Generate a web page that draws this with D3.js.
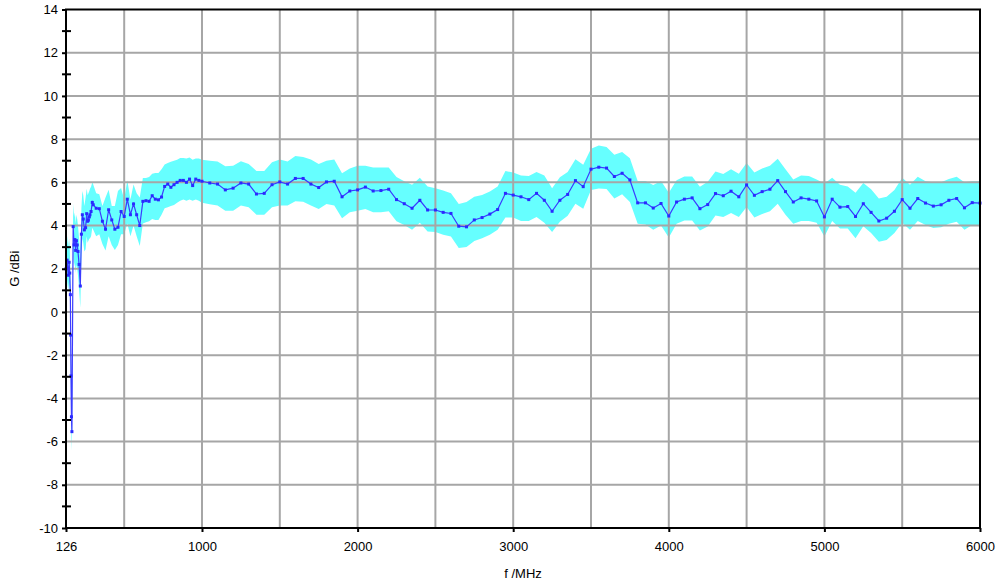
<!DOCTYPE html>
<html>
<head>
<meta charset="utf-8">
<script src="https://cdn.jsdelivr.net/npm/d3@7"></script>
<style>
  body { margin: 0; background: #fff; }
  svg { display: block; font-family: "Liberation Sans", Arial, sans-serif; }
</style>
</head>
<body>
<svg width="1002" height="584"></svg>
<script>
// low band, irregular steps (MHz)
const freqLow = [126, 133, 140, 146, 150, 154, 156, 158, 161, 164, 172, 178, 183, 188, 193, 198, 203, 210, 218,
  225, 231, 237, 244, 252, 259, 265, 270, 276, 280, 287, 295, 301, 320, 340, 360, 380, 400, 420, 440, 460,
  480, 500, 520, 540, 560, 580, 600, 620, 640, 660, 680, 700, 720, 740, 760, 780, 800, 820, 840, 860, 880,
  900, 920, 940, 960, 980];
const gainLow = [2.0, 2.4, 1.7, 2.3, 1.8, 0.8, -1.07, -2.96, -4.85, -5.54, 3.95, 3.1, 3.35, 2.85, 3.3, 3.1, 2.8, 2.2, 1.2,
  3.6, 4.5, 4.3, 3.8, 3.9, 4.55, 4.2, 4.25, 4.4, 4.5, 4.65, 5.07, 4.96, 4.8, 4.78, 4.2, 3.83, 4.73, 4.26, 3.83, 3.92,
  4.65, 4.42, 5.22, 4.5, 5.0, 4.5, 4.0, 5.12, 5.15, 5.12, 5.38, 5.22, 5.19, 5.32, 5.81, 5.92, 5.77, 5.89, 6.0, 6.09, 6.09,
  6.0, 6.15, 5.85, 6.15, 6.09];
const upperLow = [3.2, 3.5, 3.0, 3.4, 3.0, 1.9, 0.0, -1.9, -4.0, -4.7, 5.0, 4.4, 4.6, 4.1, 4.5, 4.3, 4.0, 3.4, 2.3,
  4.8, 5.6, 5.4, 4.9, 5.3, 5.7, 5.4, 5.5, 5.6, 5.7, 5.8, 6.0, 5.9, 5.5, 5.45, 4.9, 5.3, 5.66, 4.9, 4.9, 5.6,
  5.74, 5.2, 6.1, 5.2, 5.9, 5.5, 5.3, 6.2, 6.2, 6.25, 6.4, 6.43, 6.43, 6.6, 6.82, 6.9, 6.95, 7.0, 7.05, 7.13, 7.13,
  7.1, 7.15, 7.05, 7.1, 7.1];
const lowerLow = [1.3, 1.5, 1.0, 1.4, 1.0, -0.2, -2.0, -3.9, -5.8, -6.4, 2.9, 2.1, 2.3, 1.8, 2.2, 2.0, 1.7, 1.1, 0.2,
  2.6, 3.4, 3.2, 2.8, 2.9, 3.5, 3.2, 3.3, 3.4, 3.4, 3.5, 3.9, 3.8, 3.5, 3.6, 3.15, 2.85, 3.5, 3.1, 2.87, 3.1,
  3.6, 3.6, 4.1, 3.5, 4.0, 3.5, 3.05, 4.1, 4.15, 4.2, 4.3, 4.26, 4.26, 4.5, 4.8, 4.85, 4.9, 4.95, 5.05, 5.15, 5.2,
  5.15, 5.2, 5.15, 5.2, 5.15];

// 1000 - 6000 MHz, 50 MHz steps
const freqHigh = [1000, 1050, 1100, 1150, 1200, 1250, 1300, 1350, 1400, 1450, 1500, 1550, 1600, 1650, 1700, 1750,
  1800, 1850, 1900, 1950, 2000, 2050, 2100, 2150, 2200, 2250, 2300, 2350, 2400, 2450, 2500, 2550, 2600, 2650,
  2700, 2750, 2800, 2850, 2900, 2950, 3000, 3050, 3100, 3150, 3200, 3250, 3300, 3350, 3400, 3450, 3500, 3550,
  3600, 3650, 3700, 3750, 3800, 3850, 3900, 3950, 4000, 4050, 4100, 4150, 4200, 4250, 4300, 4350, 4400, 4450,
  4500, 4550, 4600, 4650, 4700, 4750, 4800, 4850, 4900, 4950, 5000, 5050, 5100, 5150, 5200, 5250, 5300, 5350,
  5400, 5450, 5500, 5550, 5600, 5650, 5700, 5750, 5800, 5850, 5900, 5950, 6000];
const gainHigh = [6.05, 5.97, 5.92, 5.65, 5.73, 5.97, 5.92, 5.46, 5.49, 5.89, 6.02, 5.92, 6.18, 6.18, 5.92, 5.76,
  6.02, 6.05, 5.33, 5.6, 5.65, 5.78, 5.6, 5.62, 5.68, 5.2, 5.01, 4.8, 5.17, 4.72, 4.72, 4.61, 4.56, 3.97,
  3.94, 4.26, 4.37, 4.53, 4.74, 5.49, 5.41, 5.33, 5.2, 5.49, 5.17, 4.66, 5.17, 5.44, 6.08, 5.8, 6.61, 6.7,
  6.66, 6.27, 6.42, 6.11, 5.05, 5.05, 4.81, 5.02, 4.44, 5.09, 5.22, 5.28, 4.78, 4.97, 5.48, 5.38, 5.59, 5.33,
  5.88, 5.4, 5.57, 5.68, 6.08, 5.57, 5.09, 5.28, 5.22, 5.14, 4.4, 5.22, 4.85, 4.88, 4.42, 5.01, 4.61, 4.21,
  4.34, 4.66, 5.2, 4.8, 5.25, 5.04, 4.9, 4.96, 5.17, 5.25, 4.82, 5.06, 5.04];
const upperHigh = [7.05, 7.0, 6.96, 6.74, 6.77, 6.98, 6.85, 6.53, 6.53, 6.93, 7.06, 6.96, 7.22, 7.17, 7.06, 6.85,
  7.0, 7.06, 6.42, 6.64, 6.77, 6.77, 6.69, 6.69, 6.69, 6.25, 6.05, 5.89, 6.21, 5.81, 5.73, 5.62, 5.49, 5.0,
  5.09, 5.33, 5.41, 5.57, 5.81, 6.53, 6.45, 6.32, 6.29, 6.48, 6.32, 5.73, 6.24, 6.48, 7.07, 6.81, 7.55, 7.7,
  7.64, 7.28, 7.4, 7.12, 6.06, 6.06, 5.88, 6.06, 5.52, 6.1, 6.27, 6.27, 5.8, 6.03, 6.5, 6.39, 6.61, 6.4,
  6.9, 6.45, 6.64, 6.77, 7.09, 6.61, 6.13, 6.32, 6.29, 6.13, 5.95, 6.21, 5.89, 5.81, 5.52, 5.97, 5.68, 5.25,
  5.33, 5.65, 6.21, 5.89, 6.26, 6.05, 6.0, 6.0, 6.16, 6.26, 6.0, 6.05, 6.05];
const lowerHigh = [5.05, 4.98, 4.93, 4.69, 4.69, 4.93, 4.85, 4.5, 4.5, 4.85, 4.93, 4.93, 5.12, 5.1, 4.93, 4.77,
  5.0, 4.93, 4.34, 4.61, 4.69, 4.77, 4.61, 4.61, 4.66, 4.2, 4.02, 3.81, 4.13, 3.73, 3.7, 3.57, 3.49, 2.96,
  3.01, 3.28, 3.41, 3.57, 3.81, 4.37, 4.37, 4.21, 4.21, 4.4, 4.13, 3.7, 4.18, 4.45, 5.01, 4.78, 5.64, 5.72,
  5.69, 5.25, 5.45, 5.09, 4.08, 4.05, 3.81, 4.0, 3.45, 4.08, 4.23, 4.23, 3.77, 3.95, 4.47, 4.39, 4.58, 4.4,
  4.86, 4.37, 4.53, 4.66, 5.01, 4.5, 4.08, 4.21, 4.21, 4.13, 3.49, 4.21, 3.86, 3.86, 3.41, 3.97, 3.65, 3.25,
  3.33, 3.65, 4.13, 3.81, 4.21, 4.02, 3.89, 3.92, 4.08, 4.18, 3.81, 4.02, 4.02];

const xTicks = [126, 1000, 2000, 3000, 4000, 5000, 6000];
const xGrid = [500, 1000, 1500, 2000, 2500, 3000, 3500, 4000, 4500, 5000, 5500];
const yTicks = [-10, -8, -6, -4, -2, 0, 2, 4, 6, 8, 10, 12, 14];
const yMinor = [-9, -7, -5, -3, -1, 1, 3, 5, 7, 9, 11, 13];

const freq = freqLow.concat(freqHigh);
const gain = gainLow.concat(gainHigh);
const upper = upperLow.concat(upperHigh);
const lower = lowerLow.concat(lowerHigh);
const data = freq.map((f, i) => ({ f: f, g: gain[i], hi: upper[i], lo: lower[i] }));

const svg = d3.select("svg");
const plotL = 66, plotR = 980, plotT = 9.5, plotB = 528;

const x = d3.scaleLinear().domain([126, 6000]).range([plotL, plotR]);
const y = d3.scaleLinear().domain([-10, 14]).range([plotB, plotT]);

svg.append("defs").append("clipPath").attr("id", "plot")
  .append("rect").attr("x", plotL).attr("y", plotT).attr("width", plotR - plotL).attr("height", plotB - plotT);

// uncertainty band
svg.append("path")
  .datum(data)
  .attr("clip-path", "url(#plot)")
  .attr("fill", "#66ffff")
  .attr("d", d3.area().x(d => x(d.f)).y0(d => y(d.lo)).y1(d => y(d.hi)));

// grid
const grid = svg.append("g").attr("stroke", "#a6a6a6").attr("stroke-width", 2);
grid.selectAll("line.v").data(xGrid).join("line").attr("class", "v")
  .attr("x1", d => x(d)).attr("x2", d => x(d)).attr("y1", plotT).attr("y2", plotB);
grid.selectAll("line.h").data(yTicks.filter(v => v > -10 && v < 14)).join("line").attr("class", "h")
  .attr("y1", d => y(d)).attr("y2", d => y(d)).attr("x1", plotL).attr("x2", plotR);

// gain line
svg.append("path")
  .datum(data)
  .attr("clip-path", "url(#plot)")
  .attr("fill", "none")
  .attr("stroke", "#3b3bff")
  .attr("stroke-width", 1.2)
  .attr("d", d3.line().x(d => x(d.f)).y(d => y(d.g)));

svg.append("g")
  .attr("fill", "#2a2aff")
  .selectAll("rect")
  .data(data)
  .join("rect")
  .attr("x", d => x(d.f) - 1.5)
  .attr("y", d => y(d.g) - 1.5)
  .attr("width", 3)
  .attr("height", 3);

// frame
svg.append("rect")
  .attr("x", plotL).attr("y", plotT)
  .attr("width", plotR - plotL).attr("height", plotB - plotT)
  .attr("fill", "none").attr("stroke", "#000").attr("stroke-width", 2);

// y axis
const yAxis = svg.append("g").attr("transform", `translate(${plotL},0)`)
  .call(d3.axisLeft(y).tickValues(yTicks).tickSize(4).tickPadding(4).tickFormat(d => String(d)));
yAxis.select(".domain").remove();
yAxis.selectAll(".tick line").attr("stroke", "#000").attr("stroke-width", 2);
yAxis.selectAll(".tick text").attr("font-size", 13).attr("fill", "#000")
  .attr("font-family", "Liberation Sans, Arial, sans-serif");

svg.append("g").attr("stroke", "#000").attr("stroke-width", 2)
  .selectAll("line").data(yMinor).join("line")
  .attr("x1", plotL - 4).attr("x2", plotL + 5)
  .attr("y1", d => y(d)).attr("y2", d => y(d));

// x axis
const xAxis = svg.append("g").attr("transform", `translate(0,${plotB})`)
  .call(d3.axisBottom(x).tickValues(xTicks).tickSize(4).tickPadding(10).tickFormat(d => String(d)));
xAxis.select(".domain").remove();
xAxis.selectAll(".tick line").attr("stroke", "#000").attr("stroke-width", 2);
xAxis.selectAll(".tick text").attr("font-size", 13).attr("fill", "#000")
  .attr("font-family", "Liberation Sans, Arial, sans-serif");

// axis titles
svg.append("text")
  .attr("x", (plotL + plotR) / 2).attr("y", 578)
  .attr("text-anchor", "middle").attr("font-size", 13)
  .text("f /MHz");

svg.append("text")
  .attr("transform", `translate(19,${(plotT + plotB) / 2}) rotate(-90)`)
  .attr("text-anchor", "middle").attr("font-size", 13)
  .text("G /dBi");
</script>
</body>
</html>
